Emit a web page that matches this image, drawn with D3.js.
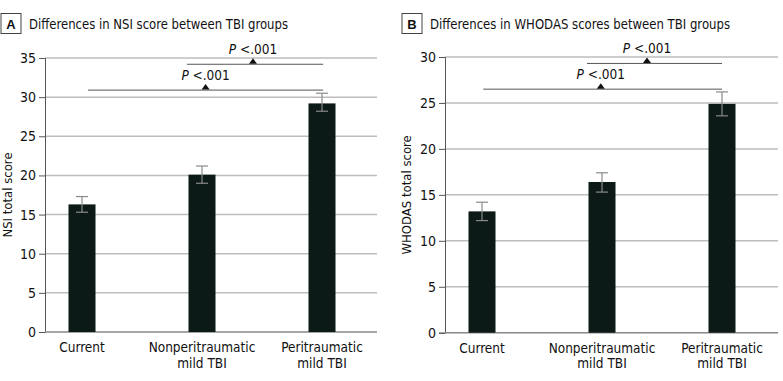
<!DOCTYPE html>
<html>
<head>
<meta charset="utf-8">
<script src="https://cdn.jsdelivr.net/npm/d3@7"></script>
<style>
  body { margin: 0; background: #fff; }
  text { font-family: "DejaVu Sans Condensed", "DejaVu Sans", sans-serif; fill: #111; }
</style>
</head>
<body>
<script>
var categories = [["Current"], ["Nonperitraumatic", "mild TBI"], ["Peritraumatic", "mild TBI"]];

// panel A: NSI
var nsiMean = [16.3, 20.1, 29.2];
var nsiLow  = [15.3, 19.0, 28.2];
var nsiHigh = [17.3, 21.2, 30.5];
var nsiTicks = [0, 5, 10, 15, 20, 25, 30, 35];
var nsiBrackets = [{from: 0.875, to: 2.01, y: 34.2, mid: 1.425}, {from: 0.05, to: 2.01, y: 30.9, mid: 1.03}];

// panel B: WHODAS
var whoMean = [13.2, 16.4, 24.9];
var whoLow  = [12.2, 15.3, 23.6];
var whoHigh = [14.2, 17.4, 26.2];
var whoTicks = [0, 5, 10, 15, 20, 25, 30];
var whoBrackets = [{from: 0.875, to: 2.0, y: 29.3, mid: 1.375}, {from: 0.01, to: 2.0, y: 26.5, mid: 0.99}];

var svg = d3.select("body").append("svg")
  .attr("width", 783)
  .attr("height", 381);

function panel(opt) {
  var g = svg.append("g").attr("transform", "translate(" + opt.left + ",0)");
  var w = opt.width;

  var x = d3.scaleLinear()
    .domain([0, 2])
    .range([37, 277]);

  var y = d3.scaleLinear()
    .domain([0, opt.max])
    .range([opt.bottom, opt.top]);

  // panel letter + title
  g.append("rect")
    .attr("x", opt.boxX).attr("y", 13.5)
    .attr("width", 20).attr("height", 20)
    .attr("fill", "#fff").attr("stroke", "#444").attr("stroke-width", 1);
  g.append("text")
    .attr("x", opt.boxX + 10).attr("y", 28.5)
    .attr("text-anchor", "middle")
    .style("font-family", "'Liberation Sans', Arial, sans-serif")
    .style("font-size", "13px").style("font-weight", "bold")
    .text(opt.letter);
  g.append("text")
    .attr("x", opt.boxX + 28).attr("y", 28.5)
    .attr("textLength", opt.titleLen)
    .attr("lengthAdjust", "spacingAndGlyphs")
    .style("font-size", "14.5px")
    .text(opt.title);

  // gridlines
  g.selectAll(".grid")
    .data(opt.ticks.filter(function(d) { return d > 0; }))
    .enter().append("line")
    .attr("x1", 0).attr("x2", w)
    .attr("y1", function(d) { return y(d); })
    .attr("y2", function(d) { return y(d); })
    .attr("stroke", "#bdbdbd").attr("stroke-width", 1.5);

  // y axis
  var yAxis = d3.axisLeft(y).tickValues(opt.ticks).tickSize(6).tickPadding(3);
  var ya = g.append("g").call(yAxis);
  ya.select(".domain").attr("stroke", "#555");
  ya.selectAll(".tick line").attr("stroke", "#555");
  ya.selectAll(".tick text").style("font-size", "14px").attr("fill", "#111");

  // baseline
  g.append("line")
    .attr("x1", 0).attr("x2", w)
    .attr("y1", y(0)).attr("y2", y(0))
    .attr("stroke", "#888").attr("stroke-width", 1.5);

  // y title
  g.append("text")
    .attr("transform", "translate(" + opt.titleX + "," + ((y(0) + y(opt.max)) / 2) + ") rotate(-90)")
    .attr("text-anchor", "middle")
    .style("font-size", "13px")
    .text(opt.yLabel);

  // bars
  var bw = 27;
  g.selectAll(".bar")
    .data(opt.mean)
    .enter().append("rect")
    .attr("x", function(d, i) { return x(i) - bw / 2; })
    .attr("y", function(d) { return y(d); })
    .attr("width", bw)
    .attr("height", function(d) { return y(0) - y(d); })
    .attr("fill", "#0b1a17");

  // error bars
  var eb = g.selectAll(".err").data(opt.mean).enter().append("g")
    .attr("stroke", "#8a8a8a").attr("stroke-width", 1.2);
  eb.append("line")
    .attr("x1", function(d, i) { return x(i); })
    .attr("x2", function(d, i) { return x(i); })
    .attr("y1", function(d, i) { return y(opt.low[i]); })
    .attr("y2", function(d, i) { return y(opt.high[i]); });
  eb.append("line")
    .attr("x1", function(d, i) { return x(i) - 6; })
    .attr("x2", function(d, i) { return x(i) + 6; })
    .attr("y1", function(d, i) { return y(opt.high[i]); })
    .attr("y2", function(d, i) { return y(opt.high[i]); });
  eb.append("line")
    .attr("x1", function(d, i) { return x(i) - 6; })
    .attr("x2", function(d, i) { return x(i) + 6; })
    .attr("y1", function(d, i) { return y(opt.low[i]); })
    .attr("y2", function(d, i) { return y(opt.low[i]); });

  // significance brackets
  opt.brackets.forEach(function(b) {
    var yy = y(b.y);
    g.append("line")
      .attr("x1", x(b.from)).attr("x2", x(b.to))
      .attr("y1", yy).attr("y2", yy)
      .attr("stroke", "#555").attr("stroke-width", 1);
    var cx = x(b.mid);
    g.append("path")
      .attr("d", "M" + (cx - 4) + "," + (yy - 0.5) + "L" + (cx + 4) + "," + (yy - 0.5) + "L" + cx + "," + (yy - 6) + "Z")
      .attr("fill", "#111");
    var t = g.append("text")
      .attr("x", cx).attr("y", yy - 10)
      .attr("text-anchor", "middle")
      .style("font-size", "13.5px");
    t.append("tspan").style("font-style", "italic").text("P");
    t.append("tspan").text(" <.001");
  });

  // category labels
  var cl = g.selectAll(".cat").data(categories).enter().append("text")
    .attr("text-anchor", "middle")
    .style("font-size", "13.5px")
    .attr("transform", function(d, i) { return "translate(" + x(i) + "," + (y(0) + 20) + ")"; });
  cl.selectAll("tspan").data(function(d) { return d; }).enter().append("tspan")
    .attr("x", 0)
    .attr("dy", function(d, i) { return i === 0 ? 0 : 15.5; })
    .text(function(d) { return d; });
}

panel({
  left: 45, width: 332, top: 58, bottom: 332, max: 35,
  ticks: nsiTicks, mean: nsiMean, low: nsiLow, high: nsiHigh, brackets: nsiBrackets,
  letter: "A", title: "Differences in NSI score between TBI groups", titleLen: 259,
  yLabel: "NSI total score", titleX: -33, boxX: -44
});

panel({
  left: 445, width: 333, top: 57, bottom: 332.7, max: 30,
  ticks: whoTicks, mean: whoMean, low: whoLow, high: whoHigh, brackets: whoBrackets,
  letter: "B", title: "Differences in WHODAS scores between TBI groups", titleLen: 300,
  yLabel: "WHODAS total score", titleX: -34, boxX: -43
});
</script>
</body>
</html>
